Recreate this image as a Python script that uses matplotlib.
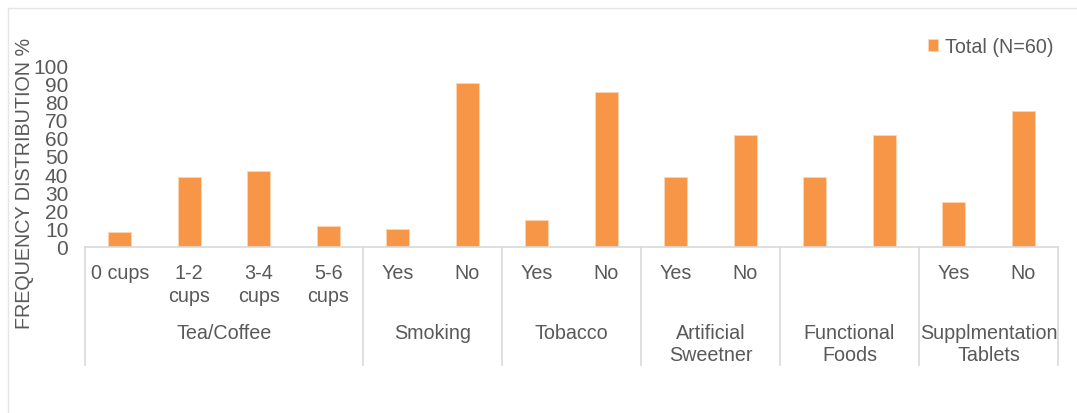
"""Frequency distribution of lifestyle habits, drawn as an Excel-style grouped bar chart."""

import matplotlib
matplotlib.use('Agg')
import matplotlib.pyplot as plt
import matplotlib.transforms as mtransforms
import numpy as np

plt.rcParams['font.family'] = ['Liberation Sans', 'DejaVu Sans']

# Sub-category labels (one per bar) and their group
sub_labels = ['0 cups', '1-2\ncups', '3-4\ncups', '5-6\ncups',
              'Yes', 'No',
              'Yes', 'No',
              'Yes', 'No',
              '', '',
              'Yes', 'No']
groups = ['Tea/Coffee', 'Smoking', 'Tobacco', 'Artificial\nSweetner',
          'Functional\nFoods', 'Supplmentation\nTablets']
group_sizes = [4, 2, 2, 2, 2, 2]

# Total (N=60), percent
total_pct = [8.3, 38.3, 41.7, 11.7,
             10.0, 90.0,
             15.0, 85.0,
             38.3, 61.7,
             38.3, 61.7,
             25.0, 75.0]

BAR_COLOR = '#F79646'
TEXT_COLOR = '#595959'
LINE_COLOR = '#D9D9D9'
FS = 14.2

fig = plt.figure(figsize=(10.77, 4.14), dpi=100)
ax = fig.add_axes([85 / 1077, (414 - 248) / 414, (1058 - 85) / 1077, 182 / 414])

x = np.arange(len(total_pct))
ax.bar(x, total_pct, width=0.33, color=BAR_COLOR, edgecolor='#FCD5B4',
       linewidth=0.6, label='Total (N=60)', zorder=2)

ax.set_xlim(-0.5, len(total_pct) - 0.5)
ax.set_ylim(0, 100)
ax.set_yticks(np.arange(0, 101, 10))
ax.tick_params(axis='y', length=0, pad=12, labelsize=15, labelcolor=TEXT_COLOR)
ax.set_xticks([])
for side in ['top', 'right', 'left']:
    ax.spines[side].set_visible(False)
ax.spines['bottom'].set_color(LINE_COLOR)
ax.spines['bottom'].set_linewidth(1.2)

# Two-level category axis: bar labels, group labels, group separators
trans = mtransforms.blended_transform_factory(ax.transData, ax.transAxes)
for xi, lab in zip(x, sub_labels):
    ax.text(xi, -0.09, lab, transform=trans, ha='center', va='top',
            fontsize=FS, color=TEXT_COLOR, linespacing=1.22)

edges = np.concatenate([[0], np.cumsum(group_sizes)]) - 0.5
for e in edges:
    ax.plot([e, e], [0, -0.65], transform=trans, color=LINE_COLOR,
            linewidth=1.2, clip_on=False)
for g, lo, hi in zip(groups, edges[:-1], edges[1:]):
    ax.text((lo + hi) / 2, -0.415, g, transform=trans, ha='center', va='top',
            fontsize=FS, color=TEXT_COLOR, linespacing=1.22)

fig.text(25 / 1077, (414 - 183) / 414, 'FREQUENCY DISTRIBUTION %', rotation=90,
         ha='center', va='center', fontsize=FS, color=TEXT_COLOR)

leg = ax.legend(loc='upper right', bbox_to_anchor=(1061 / 1077, (414 - 30) / 414),
                bbox_transform=fig.transFigure, frameon=False, fontsize=FS,
                handlelength=0.5, handleheight=0.5, handletextpad=0.35,
                borderaxespad=0)
for t in leg.get_texts():
    t.set_color(TEXT_COLOR)

# Chart area border (left and top edges)
fig.add_artist(plt.Line2D([8 / 1077, 8 / 1077], [0, (414 - 9) / 414],
                          transform=fig.transFigure, color='#E6E6E6', linewidth=1))
fig.add_artist(plt.Line2D([8 / 1077, 1], [(414 - 9) / 414, (414 - 9) / 414],
                          transform=fig.transFigure, color='#E6E6E6', linewidth=1))

fig.savefig('out.png', dpi=100)
